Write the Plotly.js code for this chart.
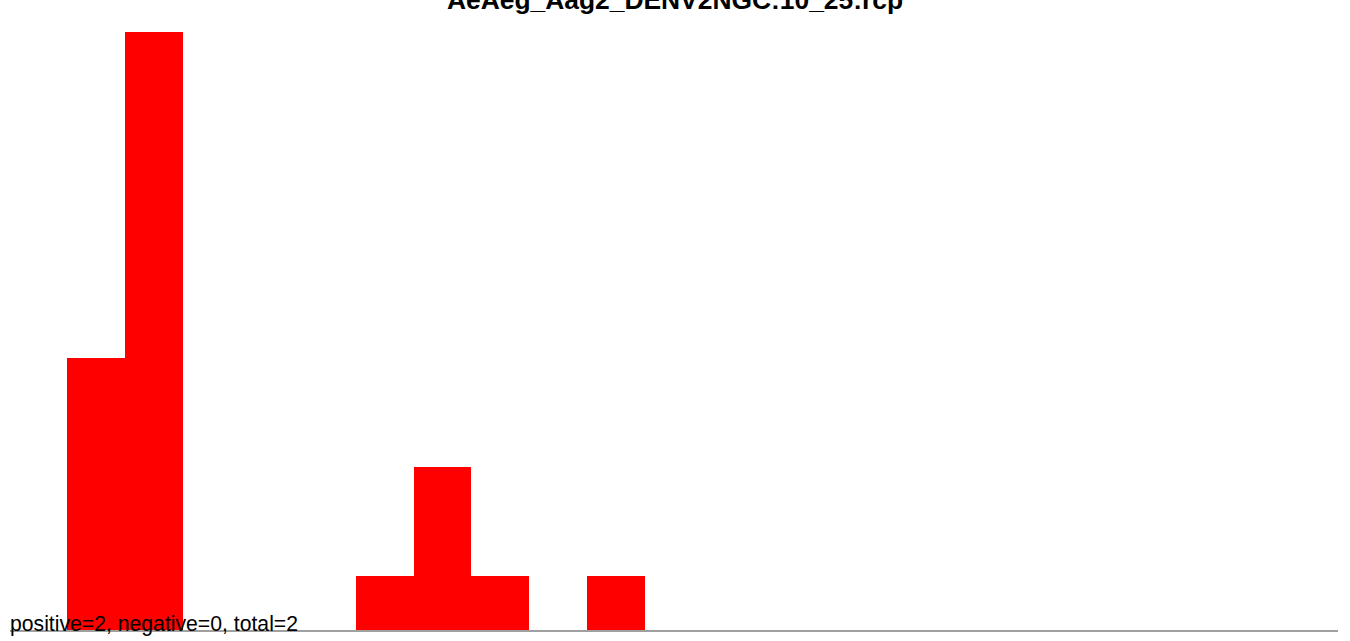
<!DOCTYPE html>
<html>
<head>
<meta charset="utf-8">
<script src="https://cdn.plot.ly/plotly-3.0.1.min.js"></script>
<style>html,body{margin:0;padding:0;background:#fff;}#chart{width:1350px;height:641px;}</style>
</head>
<body>
<div id="chart"></div>
<script>
// Read lengths (bins) and read counts
const readLengths = [20, 21, 22, 23, 24, 25, 26, 27, 28, 29];
const counts      = [5, 11, 0, 0, 0, 1, 3, 1, 0, 1];
const titleText = "AeAeg_Aag2_DENV2NGC:10_25:rcp";
const summaryText = "positive=2, negative=0, total=2";

const trace = {
  type: 'bar',
  x: readLengths,
  y: counts,
  width: 1,
  marker: {color: '#ff0000', line: {width: 0}},
  hoverinfo: 'x+y'
};

const layout = {
  width: 1350,
  height: 641,
  paper_bgcolor: '#ffffff',
  plot_bgcolor: '#ffffff',
  margin: {l: 10, r: 12, t: 32, b: 11},
  showlegend: false,
  bargap: 0,
  title: {
    text: '<b>' + titleText + '</b>',
    font: {family: 'Liberation Sans, Arial, sans-serif', size: 26.4, color: '#000000'},
    x: 0.5, xanchor: 'center',
    xref: 'container', yref: 'container',
    y: 1.0, yanchor: 'middle'
  },
  xaxis: {
    range: [18.513, 41.497],
    showgrid: false, zeroline: false,
    showticklabels: false, ticks: '',
    showline: true, linecolor: '#a0a0a0', linewidth: 2
  },
  yaxis: {
    range: [0, 11],
    showgrid: false, zeroline: false,
    showticklabels: false, ticks: '', showline: false
  },
  annotations: [{
    text: summaryText,
    xref: 'paper', yref: 'paper',
    x: 0, y: 0, xanchor: 'left', yanchor: 'bottom',
    xshift: -2, yshift: -8,
    showarrow: false,
    font: {family: 'Liberation Sans, Arial, sans-serif', size: 21.2, color: '#000000'}
  }]
};

Plotly.newPlot('chart', [trace], layout, {displayModeBar: false, staticPlot: true});
</script>
</body>
</html>
